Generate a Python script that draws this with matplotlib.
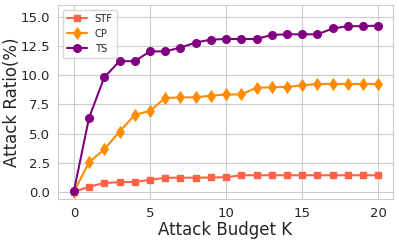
import numpy as np
import matplotlib
matplotlib.use("Agg")
import matplotlib.pyplot as plt
import seaborn as sns

# Attack budget and ratio values
budget = list(range(21))
stf = [0.0, 0.45, 0.77, 0.83, 0.86, 1.03, 1.22, 1.22, 1.22, 1.24, 1.26,
       1.43, 1.43, 1.43, 1.43, 1.43, 1.43, 1.43, 1.43, 1.43, 1.43]
cp = [0.0, 2.54, 3.65, 5.16, 6.6, 6.95, 8.05, 8.1, 8.1, 8.25, 8.35,
      8.35, 8.93, 8.96, 9.0, 9.13, 9.25, 9.25, 9.25, 9.25, 9.25]
ts = [0.05, 6.36, 9.82, 11.2, 11.2, 12.04, 12.04, 12.36, 12.8, 13.05, 13.1,
      13.1, 13.1, 13.45, 13.5, 13.5, 13.5, 14.0, 14.2, 14.2, 14.25]

sns.set_style("whitegrid")
plt.rcParams['font.family'] = ['DejaVu Sans']

fig, ax = plt.subplots(figsize=(3.99, 2.4), dpi=100)
fig.subplots_adjust(left=0.145, right=0.985, top=0.981, bottom=0.171)

ax.plot(budget, stf, marker='s', color='tomato', markersize=4.8, linewidth=1.5, label='STF')
ax.plot(budget, cp, marker='d', color='darkorange', markersize=6.3, markeredgewidth=0.6,
        linewidth=1.5, label='CP')
ax.plot(budget, ts, marker='o', color='purple', markersize=5.5, linewidth=1.5, label='TS')

ax.set_xlim(-1.05, 20.96)
ax.set_ylim(-0.6, 16.05)
ax.set_xticks([0, 5, 10, 15, 20])
ax.set_yticks([0, 2.5, 5, 7.5, 10, 12.5, 15])
ax.tick_params(labelsize=9.5, pad=2)

ax.set_xlabel('Attack Budget K', fontsize=12, labelpad=1)
ax.set_ylabel('Attack Ratio(%)', fontsize=12, labelpad=0)

ax.legend(loc='upper left', fontsize=7.2, frameon=True, borderaxespad=0.5)

fig.savefig('out.png', dpi=100)
